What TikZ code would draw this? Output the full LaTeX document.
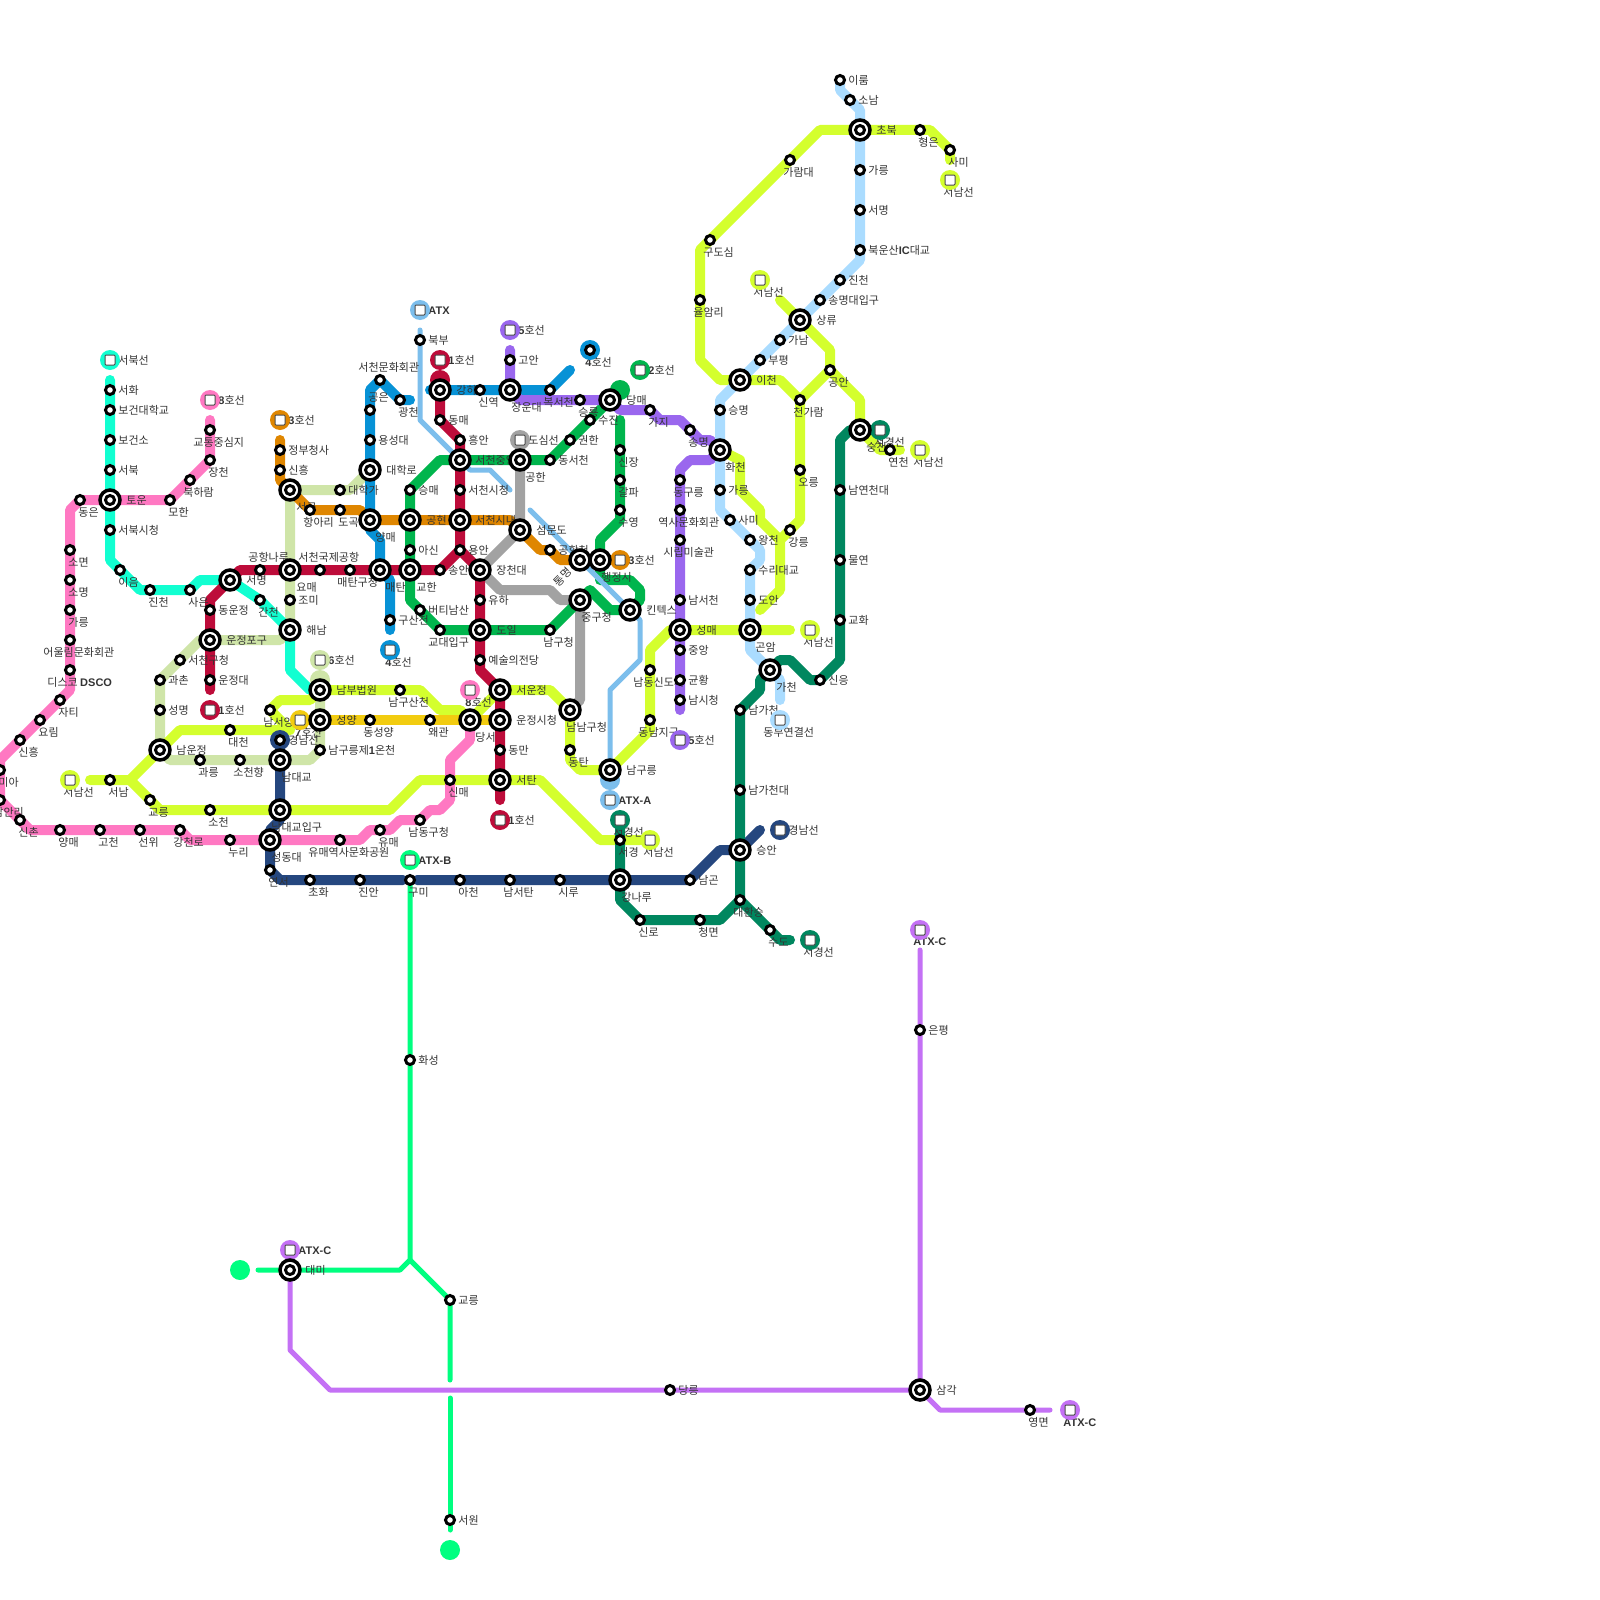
\documentclass[tikz,border=0pt]{standalone}
\usepackage{fontspec}
\setmainfont{Noto Sans CJK KR}
\newfontfamily\latf{Liberation Sans}
\newcommand{\ltn}[1]{{\latf\bfseries #1}}
\pgfdeclarelayer{lines}
\pgfdeclarelayer{labels}
\pgfsetlayers{lines,labels,main}
\definecolor{cCyan}{HTML}{12FFD1}
\definecolor{cPink}{HTML}{FF78C2}
\definecolor{cRed}{HTML}{BD0C3A}
\definecolor{cOrange}{HTML}{DF8600}
\definecolor{cBlue}{HTML}{0792D6}
\definecolor{cPurple}{HTML}{9A67EE}
\definecolor{cGreen}{HTML}{00B54D}
\definecolor{cGrey}{HTML}{A2A2A2}
\definecolor{cYellow}{HTML}{D4FF2E}
\definecolor{cLgreen}{HTML}{CFE5A8}
\definecolor{cGold}{HTML}{F2CC10}
\definecolor{cNavy}{HTML}{25477F}
\definecolor{cDgreen}{HTML}{00875F}
\definecolor{cLblue}{HTML}{AADCFF}
\definecolor{cAtx}{HTML}{7CBEEC}
\definecolor{cAtxb}{HTML}{00FF80}
\definecolor{cAtxc}{HTML}{C471F5}
\definecolor{cText}{HTML}{333333}
\tikzset{
 ln/.style={line width=5pt,line cap=round,line join=round},
 thn/.style={line width=2.5pt,line cap=round,line join=round},
 stnode/.style={circle,draw=black,fill=white,line width=1.5pt,minimum size=4.5pt,inner sep=0pt},
 icnode/.style={circle,draw=black,fill=white,line width=1.75pt,minimum size=10pt,inner sep=0pt},
 tcirc/.style={circle,minimum size=10pt,inner sep=0pt},
 tbox/.style={rectangle,rounded corners=.5pt,draw=black!70,fill=white,line width=.5pt,minimum size=5pt,inner sep=0pt},
 lab/.style={anchor=west,inner sep=0pt,text=cText,font=\fontsize{5.5}{6.5}\selectfont,text height=4.8pt,text depth=.7pt},
}
\newcommand{\stnN}[6]{\node[stnode] (#1) at (#2,#3) {};\begin{pgfonlayer}{labels}\node[lab] (#1t) at ({#2+#4},{#3+#5}) {#6};\end{pgfonlayer}}
\newcommand{\stnR}[4]{\stnN{#1}{#2}{#3}{8}{0}{#4}}
\newcommand{\stnB}[4]{\stnN{#1}{#2}{#3}{-2}{12}{#4}}
\newcommand{\icN}[6]{\node[icnode] (#1) at (#2,#3) {};\node[stnode] (#1c) at (#2,#3) {};\begin{pgfonlayer}{labels}\node[lab] (#1t) at ({#2+#4},{#3+#5}) {#6};\end{pgfonlayer}}
\newcommand{\icR}[4]{\icN{#1}{#2}{#3}{16}{0}{#4}}
\newcommand{\icB}[4]{\icN{#1}{#2}{#3}{5}{17}{#4}}
\newcommand{\tmN}[7]{\node[tcirc,fill=#4] (#1) at (#2,#3) {};\node[tbox] (#1b) at (#2,#3) {};\begin{pgfonlayer}{labels}\node[lab] (#1t) at ({#2+#5},{#3+#6}) {#7};\end{pgfonlayer}}
\newcommand{\tmR}[5]{\tmN{#1}{#2}{#3}{#4}{8}{0}{#5}}
\newcommand{\tmB}[5]{\tmN{#1}{#2}{#3}{#4}{-7}{12}{#5}}
\begin{document}
\begin{tikzpicture}[x=.5pt,y=-.5pt]
\useasboundingbox (0,0) rectangle (1600,1600);
\begin{pgfonlayer}{lines}
\fill[white] (0,0) rectangle (1600,1600);
\end{pgfonlayer}
% ---- terminals
\tmR{tCyan}{110}{360}{cCyan}{서북선}
\tmR{tPink}{210}{400}{cPink}{\ltn{8}호선}
\tmR{tOrange}{280}{420}{cOrange}{\ltn{3}호선}
\tmR{tRedA}{440}{360}{cRed}{\ltn{1}호선}
\tmR{tAtx}{420}{310}{cAtx}{\ltn{ATX}}
\tmR{tPurple}{510}{330}{cPurple}{\ltn{5}호선}
\tmR{tGreen}{640}{370}{cGreen}{\ltn{2}호선}
\tmR{tGrey}{520}{440}{cGrey}{도심선}
\tmR{tOrangeB}{620}{560}{cOrange}{\ltn{3}호선}
\tmB{tYellowA}{70}{780}{cYellow}{서남선}
\tmR{tLgreen}{320}{660}{cLgreen}{\ltn{6}호선}
\tmR{tRedB}{210}{710}{cRed}{\ltn{1}호선}
\tmN{tGold}{300}{720}{cGold}{-5}{12}{\ltn{7}호선}
\tmN{tBlueB}{390}{650}{cBlue}{-5}{12}{\ltn{4}호선}
\tmN{tPinkB}{470}{690}{cPink}{-5}{12}{\ltn{8}호선}
\tmR{tRedC}{500}{820}{cRed}{\ltn{1}호선}
\tmR{tAtxa}{610}{800}{cAtx}{\ltn{ATX-A}}
\tmB{tDgreenA}{620}{820}{cDgreen}{서경선}
\tmB{tYellowB}{650}{840}{cYellow}{서남선}
\tmR{tAtxb}{410}{860}{cAtxb}{\ltn{ATX-B}}
\tmB{tYellowC}{810}{630}{cYellow}{서남선}
\tmN{tLblue}{780}{720}{cLblue}{-17}{12}{동부연결선}
\tmR{tPurpleB}{680}{740}{cPurple}{\ltn{5}호선}
\tmR{tNavyB}{780}{830}{cNavy}{경남선}
\tmB{tDgreenB}{810}{940}{cDgreen}{서경선}
\tmB{tYellowD}{950}{180}{cYellow}{서남선}
\tmB{tYellowE}{760}{280}{cYellow}{서남선}
\tmN{tDgreenC}{880}{430}{cDgreen}{-6}{12}{서경선}
\tmB{tYellowF}{920}{450}{cYellow}{서남선}
\tmR{tAtxcA}{290}{1250}{cAtxc}{\ltn{ATX-C}}
\tmN{tAtxcB}{920}{930}{cAtxc}{-7}{11}{\ltn{ATX-C}}
\tmN{tAtxcC}{1070}{1410}{cAtxc}{-7}{12}{\ltn{ATX-C}}
\node[tcirc,fill=cBlue] (tBlueA) at (590,350) {};
\node[tcirc,fill=cNavy] (tNavyA) at (280,740) {};
\node[tcirc,fill=cAtxb] (tAtxbL) at (240,1270) {};
\node[tcirc,fill=cAtxb] (tAtxbD) at (450,1550) {};
\stnN{blueEnd}{590}{350}{-5}{12}{\ltn{4}호선}
\stnR{navyEnd}{280}{740}{경남선}
% ---- cyan
\stnR{seohwa}{110}{390}{서화}
\stnR{bogeondae}{110}{410}{보건대학교}
\stnR{bogeonso}{110}{440}{보건소}
\stnR{seobuk}{110}{470}{서북}
\icR{toun}{110}{500}{토운}
\stnR{seobuksi}{110}{530}{서북시청}
\stnB{ieum}{120}{570}{이음}
\stnB{jincheonW}{150}{590}{진천}
\stnB{saeun}{190}{590}{사은}
\icR{seomyeongW}{230}{580}{서명}
\stnB{gancheon}{260}{600}{간천}
\icR{haenam}{290}{630}{해남}
% ---- pink
\stnN{gyotong}{210}{430}{-17}{12}{교통중심지}
\stnB{jangcheon}{210}{460}{장천}
\stnN{bukharam}{190}{480}{-7}{12}{북하람}
\stnB{mohan}{170}{500}{모한}
\stnB{dongeun}{80}{500}{동은}
\stnB{somyeon}{70}{550}{소면}
\stnB{somyeong}{70}{580}{소명}
\stnB{gareungW}{70}{610}{가릉}
\stnN{eoullim}{70}{640}{-27}{12}{어울림문화회관}
\stnN{disco}{70}{670}{-23}{12}{디스코 \ltn{DSCO}}
\stnB{jati}{60}{700}{자티}
\stnB{yorim}{40}{720}{요림}
\stnB{sinheungW}{20}{740}{신흥}
\stnB{mia}{0}{770}{미아}
\stnN{namanri}{0}{800}{-7}{12}{남안리}
\stnB{sinchon}{20}{820}{신촌}
\stnB{yangmaeW}{60}{830}{양매}
\stnB{gocheon}{100}{830}{고천}
\stnB{seonwi}{140}{830}{선위}
\stnN{gangcheonro}{180}{830}{-7}{12}{강천로}
\stnB{nuri}{230}{840}{누리}
\icN{seongdong}{270}{840}{1}{17}{성동대}
\stnN{yumaeyeoksa}{340}{840}{-32}{12}{유매역사문화공원}
\stnB{yumae}{380}{830}{유매}
\stnN{namdonggu}{420}{820}{-12}{12}{남동구청}
\stnB{sinmae}{450}{780}{신매}
\icB{dangseo}{470}{720}{당서}
% ---- red
\icR{ganha}{440}{390}{강하}
\stnR{dongmae}{440}{420}{동매}
\stnR{heungan}{460}{440}{흥안}
\icN{jungang}{460}{460}{15}{0}{서천중앙}
\stnR{seosi}{460}{490}{서천시청}
\icN{seonae}{460}{520}{15}{0}{서천시내}
\stnR{yongan}{460}{550}{용안}
\stnR{songan}{440}{570}{송안}
\icN{gyohan}{410}{570}{6}{17}{교한}
\icB{maetan}{380}{570}{매탄}
\stnN{maetangu}{350}{570}{-13}{12}{매탄구청}
\stnN{gukje}{320}{570}{-22}{-13}{서천국제공항}
\icN{yomae}{290}{570}{6}{17}{요매}
\stnN{naru}{260}{570}{-12}{-13}{공항나루}
\stnR{dongun}{210}{610}{동운정}
\icR{unjeongpo}{210}{640}{운정포구}
\stnR{unjeongdae}{210}{680}{운정대}
\icR{jangcheondae}{480}{570}{장천대}
\stnR{yuha}{480}{600}{유하}
\icR{doil}{480}{630}{도일}
\stnR{yesul}{480}{660}{예술의전당}
\icR{seoun}{500}{690}{서운정}
\icR{unjeongsi}{500}{720}{운정시청}
\stnR{dongman}{500}{750}{동만}
\icR{seotan}{500}{780}{서탄}
% ---- orange
\stnR{jeongbu}{280}{450}{정부청사}
\stnR{sinheung}{280}{470}{신흥}
\icN{seogok}{290}{490}{6}{17}{서곡}
\stnN{hangari}{310}{510}{-7}{12}{항아리}
\stnB{dogok}{340}{510}{도곡}
\icB{yangmaeC}{370}{520}{양매}
\icR{gonghyeon}{410}{520}{공현}
\icR{seommun}{520}{530}{섬문도}
\stnR{gonghangcheon}{550}{550}{공항천}
\node[icnode] (tongmyeong) at (580,560) {};
\node[stnode] (tongmyeongc) at (580,560) {};
\icN{haengjeong}{600}{560}{1}{17}{행정시}
% ---- blue
\stnR{gusan}{390}{620}{구산천}
\stnR{yongseong}{370}{440}{용성대}
\icR{daehakro}{370}{470}{대학로}
\stnN{gongeun}{370}{410}{-2}{-13}{공은}
\stnN{munhwa}{380}{380}{-22}{-13}{서천문화회관}
\stnB{gwangcheon}{400}{400}{광천}
\stnB{sinyeok}{480}{390}{신역}
\icN{jangun}{510}{390}{1}{17}{장운대}
\stnN{bokseo}{550}{390}{-7}{12}{복서천}
% ---- purple
\stnR{goan}{510}{360}{고안}
\stnB{seungryong}{580}{400}{승룡}
\icR{dangmae}{610}{400}{당매}
\stnB{gaji}{650}{410}{가지}
\stnB{songmyeong}{690}{430}{송명}
\icB{hwacheon}{720}{450}{화천}
\stnN{dongureung}{680}{480}{-7}{12}{동구릉}
\stnN{yeoksa}{680}{510}{-22}{12}{역사문화회관}
\stnN{sirip}{680}{540}{-17}{12}{시립미술관}
\stnR{namseocheon}{680}{600}{남서천}
\icR{seongmae}{680}{630}{성매}
\stnR{jungangE}{680}{650}{중앙}
\stnR{gyunhwang}{680}{680}{균황}
\stnR{namsi}{680}{700}{남시청}
% ---- green
\stnR{sujin}{590}{420}{수진}
\stnR{gwonhan}{570}{440}{권한}
\stnR{dongseocheon}{550}{460}{동서천}
\icB{gonghan}{520}{460}{공한}
\stnR{seungmae}{410}{490}{승매}
\stnR{asin}{410}{550}{아신}
\stnR{beoti}{420}{610}{버티남산}
\stnN{gyodae}{440}{630}{-12}{12}{교대입구}
\stnN{namgucheong}{550}{630}{-7}{12}{남구청}
\icN{junggu}{580}{600}{1}{17}{중구청}
\icR{kintex}{630}{610}{킨텍스}
\stnB{suyeong}{620}{510}{수영}
\stnB{galpa}{620}{480}{갈파}
\stnB{sinjang}{620}{450}{신장}
% ---- light green
\stnR{seongmyeong}{160}{710}{성명}
\stnR{gwachon}{160}{680}{과촌}
\stnR{seocheongu}{180}{660}{서천구청}
\stnR{jomi}{290}{600}{조미}
\stnR{daehakga}{340}{490}{대학가}
\stnR{namgu1}{320}{750}{남구릉제\ltn{1}온천}
\icN{namdae}{280}{760}{1}{17}{남대교}
\stnN{socheonhyang}{240}{760}{-7}{12}{소천향}
\stnB{gwareung}{200}{760}{과릉}
\icR{namun}{160}{750}{남운정}
% ---- yellow
\stnB{seonam}{110}{780}{서남}
\stnB{gyoreungW}{150}{800}{교릉}
\stnB{socheon}{210}{810}{소천}
\icN{daegyoip}{280}{810}{-9}{17}{남대교입구}
\stnB{daecheon}{230}{730}{대천}
\stnN{namseoyang}{270}{710}{-7}{12}{남서양}
\icR{nambu}{320}{690}{남부법원}
\stnN{namgusan}{400}{690}{-12}{12}{남구산천}
\icN{namnam}{570}{710}{-4}{17}{남남구청}
\stnB{dongtan}{570}{750}{동탄}
\icR{namgureung}{610}{770}{남구릉}
\stnN{dongnam}{650}{720}{-12}{12}{동남지구}
\stnN{namdong}{650}{670}{-17}{12}{남동신도시}
\icB{gonam}{750}{630}{곤암}
\stnB{gongan}{830}{370}{공안}
\stnN{cheongaram}{800}{400}{-7}{12}{천가람}
\stnB{oreung}{800}{470}{오릉}
\stnB{gangreung}{790}{530}{강릉}
\icR{icheon}{740}{380}{이천}
\icR{sangryu}{800}{320}{상류}
\icR{chobuk}{860}{130}{초북}
\stnB{hyeongeun}{920}{130}{형은}
\stnB{samiE}{950}{150}{사미}
\stnN{garamdae}{790}{160}{-7}{12}{가람대}
\stnN{gudosim}{710}{240}{-7}{12}{구도심}
\stnN{yulamri}{700}{300}{-7}{12}{율암리}
\icN{seungcheon}{860}{430}{6}{17}{숭천}
\stnB{yeoncheon}{890}{450}{연천}
\stnB{seogyeong}{620}{840}{서경}
% ---- gold
\icR{seongyang}{320}{720}{성양}
\stnN{dongseong}{370}{720}{-7}{12}{동성양}
\stnB{waegwan}{430}{720}{왜관}
% ---- navy
\stnB{yeonseo}{270}{870}{연서}
\stnB{choha}{310}{880}{초화}
\stnB{jinan}{360}{880}{진안}
\stnB{gumi}{410}{880}{구미}
\stnB{acheon}{460}{880}{아천}
\stnN{namseotan}{510}{880}{-7}{12}{남서탄}
\stnB{siru}{560}{880}{시루}
\icN{gangnaru}{620}{880}{1}{17}{강나루}
\stnR{namgon}{690}{880}{남곤}
\icR{seungan}{740}{850}{승안}
% ---- dark green
\stnB{sinro}{640}{920}{신로}
\stnB{cheongmyeon}{700}{920}{청면}
\stnN{daehwan}{740}{900}{-7}{12}{대환승}
\stnB{sudo}{770}{930}{수도}
\stnR{namgacheondae}{740}{790}{남가천대}
\stnR{namgacheon}{740}{710}{남가천}
\icN{gacheon}{770}{670}{6}{17}{가천}
\stnR{sineung}{820}{680}{신응}
\stnR{gyohwa}{840}{620}{교화}
\stnR{mulyeon}{840}{560}{물연}
\stnR{namyeon}{840}{490}{남연천대}
% ---- light blue
\stnR{ilum}{840}{80}{이룸}
\stnR{sonam}{850}{100}{소남}
\stnR{gareungN}{860}{170}{가릉}
\stnR{seomyeongE}{860}{210}{서명}
\stnR{bukun}{860}{250}{북운산\ltn{IC}대교}
\stnR{jincheonE}{840}{280}{진천}
\stnR{songmyeongdae}{820}{300}{송명대입구}
\stnR{ganam}{780}{340}{가남}
\stnR{bupyeong}{760}{360}{부평}
\stnR{seungmyeong}{720}{410}{승명}
\stnR{gareungE}{720}{490}{가릉}
\stnR{samiC}{730}{520}{사미}
\stnR{wangcheon}{750}{540}{왕천}
\stnR{suri}{750}{570}{수리대교}
\stnR{doan}{750}{600}{도안}
% ---- thin lines
\stnR{bukbu}{420}{340}{북부}
\stnR{hwaseong}{410}{1060}{화성}
\stnR{gyoreungS}{450}{1300}{교릉}
\stnR{seowon}{450}{1520}{서원}
\icN{daemi}{290}{1270}{15}{0}{대미}
\stnR{dangreung}{670}{1390}{당릉}
\icR{samgak}{920}{1390}{삼각}
\stnR{eunpyeong}{920}{1030}{은평}
\stnB{yeongmyeon}{1030}{1410}{영면}
\begin{pgfonlayer}{labels}
\node[lab,anchor=center,rotate=45] (tongmyeongt) at (563,577) {통명};
\end{pgfonlayer}
% ---- lines
\begin{pgfonlayer}{lines}
\draw[ln,cLgreen] (320,680) -- (nambu.center) -- (seongyang.center) -- (namgu1.center) -- (310,760) -- (namdae.center) -- (socheonhyang.center) -- (gwareung.center) -- (170,760) -- (namun.center) -- (seongmyeong.center) -- (gwachon.center) -- (200,640) -- (unjeongpo.center) -- (280,640) -- (haenam.center) -- (jomi.center) -- (yomae.center) -- (seogok.center) -- (daehakga.center) -- (350,490) -- (daehakro.center);
\fill[cLgreen] (320,680) circle (10);
\draw[ln,cCyan] (110,380) -- (seohwa.center) -- (bogeondae.center) -- (bogeonso.center) -- (seobuk.center) -- (toun.center) -- (seobuksi.center) -- (110,560) -- (ieum.center) -- (140,590) -- (jincheonW.center) -- (saeun.center) -- (200,580) -- (seomyeongW.center) -- (gancheon.center) -- (haenam.center) -- (290,670) -- (310,690) -- (nambu.center);
\draw[ln,cOrange] (280,440) -- (jeongbu.center) -- (sinheung.center) -- (280,480) -- (seogok.center) -- (hangari.center) -- (dogok.center) -- (360,510) -- (yangmaeC.center) -- (gonghyeon.center) -- (seonae.center) -- (510,520) -- (seommun.center) -- (540,550) -- (gonghangcheon.center) -- (560,560) -- (tongmyeong.center) -- (haengjeong.center);
\draw[ln,cBlue] (390,630) -- (gusan.center) -- (390,580) -- (maetan.center) -- (380,540) -- (370,530) -- (yangmaeC.center) -- (daehakro.center) -- (yongseong.center) -- (gongeun.center) -- (370,390) -- (munhwa.center) -- (gwangcheon.center) -- (410,400);
\draw[ln,cBlue] (430,390) -- (ganha.center) -- (sinyeok.center) -- (jangun.center) -- (bokseo.center) -- (570,370);
\draw[ln,cGrey] (tGrey.center) -- (gonghan.center) -- (seommun.center) -- (jangcheondae.center) -- (490,580) -- (500,590) -- (550,590) -- (560,600) -- (junggu.center) -- (580,700) -- (namnam.center);
\draw[ln,cGreen] (dangmae.center) -- (sujin.center) -- (gwonhan.center) -- (dongseocheon.center) -- (gonghan.center) -- (jungang.center) -- (440,460) -- (seungmae.center) -- (gonghyeon.center) -- (asin.center) -- (gyohan.center) -- (410,600) -- (beoti.center) -- (gyodae.center) -- (doil.center) -- (namgucheong.center) -- (junggu.center) -- (590,590) -- (610,610) -- (kintex.center) -- (640,600) -- (640,590) -- (630,580) -- (600,580) -- (haengjeong.center) -- (600,540) -- (620,520) -- (suyeong.center) -- (galpa.center) -- (sinjang.center) -- (620,420);
\fill[cGreen] (620,390) circle (10);
\draw[ln,cPurple] (510,350) -- (goan.center) -- (jangun.center) -- (520,400) -- (seungryong.center) -- (dangmae.center) -- (620,410) -- (gaji.center) -- (660,420) -- (680,420) -- (songmyeong.center) -- (700,440) -- (710,440) -- (hwacheon.center) -- (710,460) -- (690,460) -- (680,470) -- (dongureung.center) -- (yeoksa.center) -- (sirip.center) -- (namseocheon.center) -- (seongmae.center) -- (jungangE.center) -- (gyunhwang.center) -- (namsi.center) -- (680,710);
\draw[ln,cYellow] (90,780) -- (seonam.center) -- (130,780) -- (namun.center) -- (180,730) -- (daecheon.center) -- (290,730) -- (namseoyang.center) -- (280,700) -- (310,700) -- (nambu.center) -- (namgusan.center) -- (420,690) -- (440,710) -- (460,710) -- (dangseo.center) -- (seoun.center) -- (550,690) -- (namnam.center) -- (dongtan.center) -- (570,760) -- (580,770) -- (namgureung.center) -- (650,730) -- (dongnam.center) -- (namdong.center) -- (650,650) -- (670,630) -- (seongmae.center) -- (gonam.center) -- (790,630);
\draw[ln,cYellow] (130,780) -- (gyoreungW.center) -- (160,810) -- (socheon.center) -- (daegyoip.center) -- (390,810) -- (420,780) -- (sinmae.center) -- (seotan.center) -- (540,780) -- (600,840) -- (seogyeong.center) -- (640,840);
\draw[ln,cYellow] (780,300) -- (sangryu.center) -- (830,350) -- (gongan.center) -- (860,400) -- (seungcheon.center) -- (880,450) -- (yeoncheon.center) -- (900,450);
\draw[ln,cYellow] (950,160) -- (samiE.center) -- (930,130) -- (hyeongeun.center) -- (chobuk.center) -- (820,130) -- (garamdae.center) -- (gudosim.center) -- (700,250) -- (yulamri.center) -- (700,360) -- (720,380) -- (icheon.center) -- (780,380) -- (cheongaram.center) -- (oreung.center) -- (800,520) -- (gangreung.center) -- (780,540) -- (780,590) -- (760,610);
\draw[ln,cYellow] (cheongaram.center) -- (gongan.center);
\draw[ln,cYellow] (hwacheon.center) -- (740,460) -- (740,490) -- (760,510) -- (760,520) -- (780,540);
\draw[ln,cPink] (210,420) -- (gyotong.center) -- (jangcheon.center) -- (bukharam.center) -- (mohan.center) -- (toun.center) -- (dongeun.center) -- (70,510) -- (somyeon.center) -- (somyeong.center) -- (gareungW.center) -- (eoullim.center) -- (disco.center) -- (70,690) -- (jati.center) -- (yorim.center) -- (sinheungW.center) -- (0,760) -- (namanri.center) -- (sinchon.center) -- (30,830) -- (yangmaeW.center) -- (gocheon.center) -- (seonwi.center) -- (gangcheonro.center) -- (190,840) -- (nuri.center) -- (seongdong.center) -- (yumaeyeoksa.center) -- (360,840) -- (370,830) -- (yumae.center) -- (390,830) -- (400,820) -- (namdonggu.center) -- (430,810) -- (440,810) -- (450,800) -- (sinmae.center) -- (450,760) -- (470,740) -- (dangseo.center);
\draw[ln,cRed] (ganha.center) -- (dongmae.center) -- (heungan.center) -- (jungang.center) -- (seosi.center) -- (seonae.center) -- (yongan.center) -- (jangcheondae.center) -- (yuha.center) -- (doil.center) -- (yesul.center) -- (480,670) -- (seoun.center) -- (unjeongsi.center) -- (dongman.center) -- (seotan.center) -- (500,800);
\fill[cRed] (440,380) circle (10);
\draw[ln,cRed] (yongan.center) -- (songan.center) -- (gyohan.center) -- (maetan.center) -- (maetangu.center) -- (gukje.center) -- (yomae.center) -- (naru.center) -- (240,570) -- (seomyeongW.center) -- (210,600) -- (dongun.center) -- (unjeongpo.center) -- (unjeongdae.center) -- (210,690);
\draw[ln,cGold] (tGold.center) -- (seongyang.center) -- (dongseong.center) -- (waegwan.center) -- (dangseo.center) -- (unjeongsi.center);
\draw[ln,cNavy] (tNavyA.center) -- (namdae.center) -- (daegyoip.center) -- (280,820) -- (270,830) -- (seongdong.center) -- (yeonseo.center) -- (280,880) -- (choha.center) -- (jinan.center) -- (403,880);
\draw[ln,cNavy] (417,880) -- (acheon.center) -- (namseotan.center) -- (siru.center) -- (gangnaru.center) -- (namgon.center) -- (720,850) -- (seungan.center) -- (760,830);
\draw[ln,cDgreen] (tDgreenA.center) -- (seogyeong.center) -- (gangnaru.center) -- (620,900) -- (sinro.center) -- (cheongmyeon.center) -- (720,920) -- (daehwan.center) -- (sudo.center) -- (780,940) -- (790,940);
\draw[ln,cDgreen] (daehwan.center) -- (seungan.center) -- (namgacheondae.center) -- (namgacheon.center) -- (760,690) -- (760,680) -- (gacheon.center) -- (780,660) -- (790,660) -- (810,680) -- (sineung.center) -- (840,660) -- (gyohwa.center) -- (mulyeon.center) -- (namyeon.center) -- (840,440) -- (850,430) -- (seungcheon.center) -- (tDgreenC.center);
\draw[ln,cLblue] (ilum.center) -- (840,90) -- (sonam.center) -- (860,110) -- (chobuk.center) -- (gareungN.center) -- (seomyeongE.center) -- (bukun.center) -- (860,260) -- (jincheonE.center) -- (songmyeongdae.center) -- (sangryu.center) -- (ganam.center) -- (bupyeong.center) -- (icheon.center) -- (720,400) -- (seungmyeong.center) -- (hwacheon.center) -- (gareungE.center) -- (720,510) -- (samiC.center) -- (wangcheon.center) -- (760,550) -- (760,560) -- (suri.center) -- (doan.center) -- (gonam.center) -- (750,650) -- (gacheon.center) -- (780,680) -- (780,700);
\draw[thn,cAtx] (420,330) -- (bukbu.center) -- (420,420) -- (jungang.center) -- (470,470) -- (490,470) -- (510,490);
\draw[thn,cAtx] (530,510) -- (kintex.center) -- (640,620) -- (640,660) -- (610,690) -- (namgureung.center);
\fill[cAtx] (610,780) circle (10);
\draw[thn,cAtxb] (gumi.center) -- (hwaseong.center) -- (410,1260) -- (400,1270) -- (daemi.center) -- (258,1270);
\draw[thn,cAtxb] (410,1260) -- (gyoreungS.center) -- (450,1380);
\draw[thn,cAtxb] (450,1398) -- (seowon.center) -- (450,1530);
\draw[thn,cAtxc] (daemi.center) -- (290,1350) -- (330,1390) -- (dangreung.center) -- (samgak.center);
\draw[thn,cAtxc] (920,950) -- (eunpyeong.center) -- (samgak.center) -- (940,1410) -- (yeongmyeon.center) -- (1050,1410);
\end{pgfonlayer}
\end{tikzpicture}
\end{document}
